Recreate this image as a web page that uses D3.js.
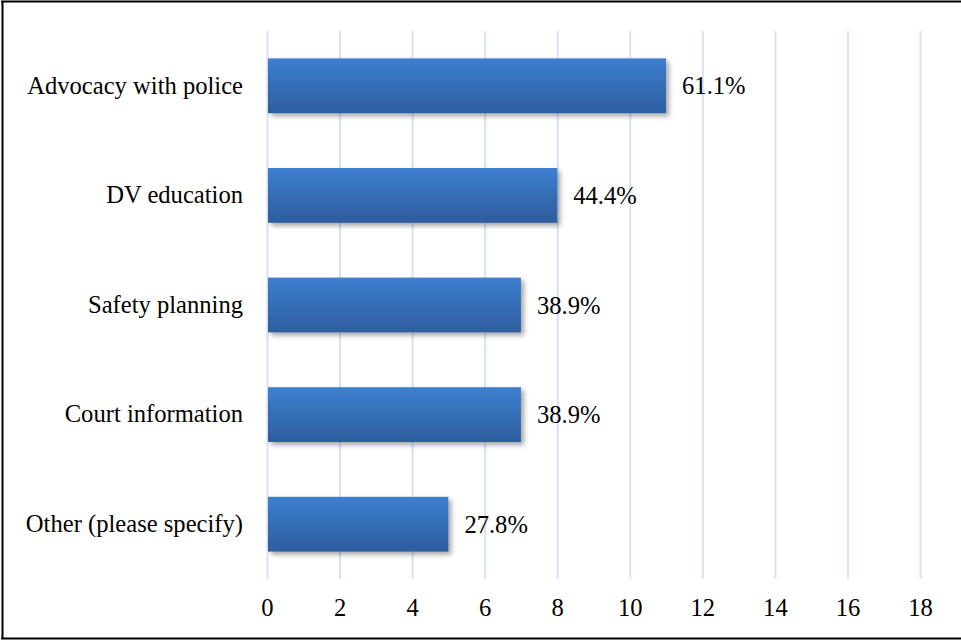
<!DOCTYPE html>
<html>
<head>
<meta charset="utf-8">
<script src="https://cdn.jsdelivr.net/npm/d3@7"></script>
<style>
  body { margin: 0; background: #fff; }
  text { font-family: "Liberation Serif", serif; fill: #000; }
</style>
</head>
<body>
<div id="chart"></div>
<script>
var svgWidth = 961;
var svgHeight = 642;

// chart data
var categories = ["Advocacy with police", "DV education", "Safety planning", "Court information", "Other (please specify)"];
var counts = [11, 8, 7, 7, 5];
var pctLabels = ["61.1%", "44.4%", "38.9%", "38.9%", "27.8%"];
var xTicks = [0, 2, 4, 6, 8, 10, 12, 14, 16, 18];

var margin = { top: 31, right: 41, bottom: 62, left: 267 };
var fontSize = "24.6px";

var svg = d3.select("#chart")
  .append("svg")
  .attr("width", svgWidth)
  .attr("height", svgHeight);

var defs = svg.append("defs");

var grad = defs.append("linearGradient")
  .attr("id", "barGrad")
  .attr("x1", 0).attr("y1", 0).attr("x2", 0).attr("y2", 1);
grad.append("stop").attr("offset", "0%").attr("stop-color", "#3d7fcf");
grad.append("stop").attr("offset", "100%").attr("stop-color", "#2d5d9e");

var shadow = defs.append("filter")
  .attr("id", "shadow")
  .attr("x", "-5%").attr("y", "-20%")
  .attr("width", "115%").attr("height", "150%");
shadow.append("feDropShadow")
  .attr("dx", 3).attr("dy", 3)
  .attr("stdDeviation", 2.5)
  .attr("flood-color", "#000")
  .attr("flood-opacity", 0.35);

// frame
svg.append("line").attr("x1", 2.5).attr("x2", 2.5).attr("y1", 1).attr("y2", 639)
  .attr("stroke", "#000").attr("stroke-width", 2);
svg.append("line").attr("x1", 1).attr("x2", 961).attr("y1", 1.5).attr("y2", 1.5)
  .attr("stroke", "#000").attr("stroke-width", 2);
svg.append("line").attr("x1", 1).attr("x2", 961).attr("y1", 638.5).attr("y2", 638.5)
  .attr("stroke", "#000").attr("stroke-width", 2);

var chartGroup = svg.append("g")
  .attr("transform", `translate(${margin.left}, ${margin.top})`);

var xScale = d3.scaleLinear()
  .domain([0, 18])
  .range([0, 653]);

var yScale = d3.scaleBand()
  .domain(categories)
  .range([0, 548])
  .paddingInner(0.5)
  .paddingOuter(0.25);

// gridlines
chartGroup.append("g")
  .selectAll("line")
  .data(xTicks)
  .enter()
  .append("line")
  .attr("x1", d => xScale(d) + 0.5)
  .attr("x2", d => xScale(d) + 0.5)
  .attr("y1", 0)
  .attr("y2", 548)
  .attr("stroke", "#d6e3f5")
  .attr("stroke-width", 2);

// bars
chartGroup.append("g")
  .selectAll("rect")
  .data(categories)
  .enter()
  .append("rect")
  .attr("x", xScale(0) + 1)
  .attr("y", d => yScale(d))
  .attr("width", (d, i) => xScale(counts[i]) - xScale(0) - 1)
  .attr("height", yScale.bandwidth())
  .attr("fill", "url(#barGrad)")
  .attr("filter", "url(#shadow)");

// value labels
chartGroup.append("g")
  .selectAll("text")
  .data(categories)
  .enter()
  .append("text")
  .attr("x", (d, i) => xScale(counts[i]) + 16)
  .attr("y", d => yScale(d) + yScale.bandwidth() / 2)
  .attr("dy", "0.35em")
  .style("font-size", fontSize)
  .text((d, i) => pctLabels[i]);

// category labels
var leftAxis = d3.axisLeft(yScale).tickSize(0).tickPadding(24);
var yAxis = chartGroup.append("g").call(leftAxis);
yAxis.select(".domain").remove();
yAxis.selectAll("text")
  .style("font-size", fontSize)
  .style("font-family", "'Liberation Serif', serif")
  .attr("fill", "#000");

// x axis tick labels
var bottomAxis = d3.axisBottom(xScale).tickValues(xTicks).tickSize(0).tickPadding(20);
var xAxis = chartGroup.append("g")
  .attr("transform", `translate(0, 548)`)
  .call(bottomAxis);
xAxis.select(".domain").remove();
xAxis.selectAll("text")
  .style("font-size", fontSize)
  .style("font-family", "'Liberation Serif', serif")
  .attr("fill", "#000");
</script>
</body>
</html>
